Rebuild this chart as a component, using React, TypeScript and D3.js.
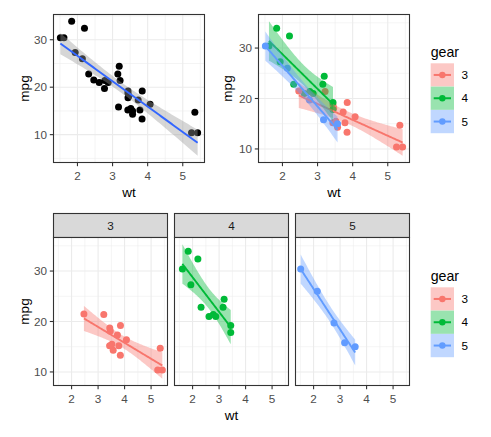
import React from 'react';
import * as d3 from 'd3';

// mtcars: weight (1000 lbs), miles per gallon, number of forward gears
const WT = [2.62, 2.875, 2.32, 3.215, 3.44, 3.46, 3.57, 3.19, 3.15, 3.44, 3.44, 4.07, 3.73, 3.78, 5.25, 5.424, 5.345, 2.2, 1.615, 1.835, 2.465, 3.52, 3.435, 3.84, 3.845, 1.935, 2.14, 1.513, 3.17, 2.77, 3.57, 2.78];
const MPG = [21, 21, 22.8, 21.4, 18.7, 18.1, 14.3, 24.4, 22.8, 19.2, 17.8, 16.4, 17.3, 15.2, 10.4, 10.4, 14.7, 32.4, 30.4, 33.9, 21.5, 15.5, 15.2, 13.3, 19.2, 27.3, 26, 30.4, 15.8, 19.7, 15, 21.4];
const GEAR = [4, 4, 4, 3, 3, 3, 3, 4, 4, 4, 4, 3, 3, 3, 3, 3, 3, 4, 4, 4, 3, 3, 3, 3, 3, 4, 5, 5, 5, 5, 5, 4];

const GEARS = [3, 4, 5];
const GEAR_LABELS = ['3', '4', '5'];
const GEAR_COLORS = ['#F8766D', '#00BA38', '#619CFF'];
const X_TICKS = [2, 3, 4, 5];
const Y_TICKS = [10, 20, 30];
const X_TITLE = 'wt';
const Y_TITLE = 'mpg';
const LEGEND_TITLE = 'gear';

// 97.5% quantiles of Student's t by degrees of freedom
const T975: Record<number, number> = { 3: 3.182446, 10: 2.228139, 13: 2.160369, 30: 2.042272 };

const FONT = '"Liberation Sans", Arial, sans-serif';
const GRID = '#EBEBEB';
const DARK = '#333333';
const TICK_TEXT = '#4D4D4D';

type FitPt = { x: number; y: number; ymin: number; ymax: number };

function fitLm(xs: number[], ys: number[]): FitPt[] {
  const n = xs.length;
  const xbar = d3.mean(xs) as number;
  const ybar = d3.mean(ys) as number;
  let sxx = 0, sxy = 0;
  for (let i = 0; i < n; i++) {
    sxx += (xs[i] - xbar) ** 2;
    sxy += (xs[i] - xbar) * (ys[i] - ybar);
  }
  const b = sxy / sxx;
  const a = ybar - b * xbar;
  let sse = 0;
  for (let i = 0; i < n; i++) sse += (ys[i] - a - b * xs[i]) ** 2;
  const s = Math.sqrt(sse / (n - 2));
  const t = T975[n - 2];
  const [lo, hi] = d3.extent(xs) as [number, number];
  return d3.range(80).map((i) => {
    const x = lo + ((hi - lo) * i) / 79;
    const f = a + b * x;
    const se = s * Math.sqrt(1 / n + (x - xbar) ** 2 / sxx);
    return { x, y: f, ymin: f - t * se, ymax: f + t * se };
  });
}

function expand(lo: number, hi: number): [number, number] {
  const d = (hi - lo) * 0.05;
  return [lo - d, hi + d];
}

function minorBreaks(major: number[], dom: [number, number]) {
  const bd = major[1] - major[0];
  const ext = [major[0] - bd, ...major, major[major.length - 1] + bd];
  const out: number[] = [];
  for (let i = 0; i < ext.length - 1; i++) {
    const m = (ext[i] + ext[i + 1]) / 2;
    if (m >= dom[0] && m <= dom[1]) out.push(m);
  }
  return out;
}

type PanelProps = {
  x0: number; x1: number; y0: number; y1: number;
  xDom: [number, number]; yDom: [number, number];
  showY: boolean; showX: boolean;
  render: (xs: d3.ScaleLinear<number, number>, ys: d3.ScaleLinear<number, number>) => React.ReactNode;
};

function Panel({ x0, x1, y0, y1, xDom, yDom, showY, showX, render }: PanelProps) {
  const xs = d3.scaleLinear().domain(xDom).range([x0, x1]);
  const ys = d3.scaleLinear().domain(yDom).range([y1, y0]);
  const xMinor = minorBreaks(X_TICKS, xDom);
  const yMinor = minorBreaks(Y_TICKS, yDom);
  const clipId = `clip-${Math.round(x0)}-${Math.round(y0)}`;
  return (
    <g>
      <defs>
        <clipPath id={clipId}>
          <rect x={x0} y={y0} width={x1 - x0} height={y1 - y0} />
        </clipPath>
      </defs>
      <rect x={x0} y={y0} width={x1 - x0} height={y1 - y0} fill="#FFFFFF" />
      {xMinor.map((v) => (
        <line key={'xm' + v} x1={xs(v)} x2={xs(v)} y1={y0} y2={y1} stroke={GRID} strokeWidth={0.55} />
      ))}
      {yMinor.map((v) => (
        <line key={'ym' + v} x1={x0} x2={x1} y1={ys(v)} y2={ys(v)} stroke={GRID} strokeWidth={0.55} />
      ))}
      {X_TICKS.map((v) => (
        <line key={'xM' + v} x1={xs(v)} x2={xs(v)} y1={y0} y2={y1} stroke={GRID} strokeWidth={1.1} />
      ))}
      {Y_TICKS.map((v) => (
        <line key={'yM' + v} x1={x0} x2={x1} y1={ys(v)} y2={ys(v)} stroke={GRID} strokeWidth={1.1} />
      ))}
      <g clipPath={`url(#${clipId})`}>{render(xs, ys)}</g>
      <rect x={x0} y={y0} width={x1 - x0} height={y1 - y0} fill="none" stroke={DARK} strokeWidth={1.1} />
      {showY &&
        Y_TICKS.map((v) => (
          <g key={'yt' + v}>
            <line x1={x0 - 3.7} x2={x0} y1={ys(v)} y2={ys(v)} stroke={DARK} strokeWidth={1.1} />
            <text x={x0 - 6.6} y={ys(v)} dy="0.36em" textAnchor="end" fontSize={11.7} fill={TICK_TEXT} fontFamily={FONT}>
              {v}
            </text>
          </g>
        ))}
      {showX &&
        X_TICKS.map((v) => (
          <g key={'xt' + v}>
            <line x1={xs(v)} x2={xs(v)} y1={y1} y2={y1 + 3.7} stroke={DARK} strokeWidth={1.1} />
            <text x={xs(v)} y={y1 + 17} textAnchor="middle" fontSize={11.7} fill={TICK_TEXT} fontFamily={FONT}>
              {v}
            </text>
          </g>
        ))}
    </g>
  );
}

function Legend({ x, titleY, keyY }: { x: number; titleY: number; keyY: number }) {
  const k = 23.3;
  return (
    <g>
      <text x={x} y={titleY} fontSize={14.2} fill="#000000" fontFamily={FONT}>
        {LEGEND_TITLE}
      </text>
      {GEARS.map((g, i) => (
        <g key={g}>
          <rect x={x} y={keyY + i * k} width={k} height={k} fill="#FFFFFF" />
          <rect x={x} y={keyY + i * k} width={k} height={k} fill={GEAR_COLORS[i]} fillOpacity={0.4} />
          <line x1={x + 3} x2={x + k - 3} y1={keyY + i * k + k / 2} y2={keyY + i * k + k / 2} stroke={GEAR_COLORS[i]} strokeWidth={2} />
          <circle cx={x + k / 2} cy={keyY + i * k + k / 2} r={3.2} fill={GEAR_COLORS[i]} />
          <text x={x + k + 7.5} y={keyY + i * k + k / 2} dy="0.36em" fontSize={11.7} fill="#000000" fontFamily={FONT}>
            {GEAR_LABELS[i]}
          </text>
        </g>
      ))}
    </g>
  );
}

function Smooth({ fit, xs, ys, fill, stroke }: { fit: FitPt[]; xs: any; ys: any; fill: string; stroke: string }) {
  const area = d3.area<FitPt>().x((d) => xs(d.x)).y0((d) => ys(d.ymin)).y1((d) => ys(d.ymax));
  const line = d3.line<FitPt>().x((d) => xs(d.x)).y((d) => ys(d.y));
  return (
    <g>
      <path d={area(fit) as string} fill={fill} fillOpacity={0.4} stroke="none" />
      <path d={line(fit) as string} fill="none" stroke={stroke} strokeWidth={1.9} />
    </g>
  );
}

export default function App() {
  const idx = d3.range(WT.length);
  const allFit = fitLm(WT, MPG);
  const groupIdx = GEARS.map((g) => idx.filter((i) => GEAR[i] === g));
  const groupFits = groupIdx.map((ii) => fitLm(ii.map((i) => WT[i]), ii.map((i) => MPG[i])));

  const [wx0, wx1] = d3.extent(WT) as [number, number];
  const xDom = expand(wx0, wx1);

  const yA = [...MPG, ...allFit.map((d) => d.ymin), ...allFit.map((d) => d.ymax)];
  const yDomA = expand(d3.min(yA) as number, d3.max(yA) as number);
  const yB = [...MPG, ...groupFits.flatMap((f) => f.map((d) => d.ymin)), ...groupFits.flatMap((f) => f.map((d) => d.ymax))];
  const yDomB = expand(d3.min(yB) as number, d3.max(yB) as number);

  const top = { y0: 14.5, y1: 162.5 };
  const facetX = [
    [53.5, 167.5],
    [174.5, 288.5],
    [295.5, 409.5],
  ];
  const stripY0 = 213.5;
  const facetY0 = 237.5;
  const facetY1 = 385.5;

  const colorPoints = (xs: any, ys: any, ii: number[]) =>
    ii.map((i) => (
      <circle key={i} cx={xs(WT[i])} cy={ys(MPG[i])} r={3.5} fill={GEAR_COLORS[GEARS.indexOf(GEAR[i])]} />
    ));

  return (
    <svg width={491} height={437} style={{ position: 'absolute', left: 0, top: 0, background: '#FFFFFF' }}>
      <rect x={0} y={0} width={491} height={437} fill="#FFFFFF" />

      {/* Plot A: all cars, single fit */}
      <Panel
        x0={53.5} x1={204.5} y0={top.y0} y1={top.y1} xDom={xDom} yDom={yDomA} showX showY
        render={(xs, ys) => (
          <g>
            {idx.map((i) => (
              <circle key={i} cx={xs(WT[i])} cy={ys(MPG[i])} r={3.5} fill="#000000" />
            ))}
            <Smooth fit={allFit} xs={xs} ys={ys} fill="#999999" stroke="#3366FF" />
          </g>
        )}
      />
      <text x={129} y={196.5} textAnchor="middle" fontSize={13.5} fontFamily={FONT}>{X_TITLE}</text>
      <text transform="translate(28.8,88.5) rotate(-90)" textAnchor="middle" fontSize={13.5} fontFamily={FONT}>{Y_TITLE}</text>

      {/* Plot B: coloured by gear */}
      <Panel
        x0={258.5} x1={409.5} y0={top.y0} y1={top.y1} xDom={xDom} yDom={yDomB} showX showY
        render={(xs, ys) => (
          <g>
            {colorPoints(xs, ys, idx)}
            {groupFits.map((f, gi) => (
              <Smooth key={gi} fit={f} xs={xs} ys={ys} fill={GEAR_COLORS[gi]} stroke={GEAR_COLORS[gi]} />
            ))}
          </g>
        )}
      />
      <text x={334} y={196.5} textAnchor="middle" fontSize={13.5} fontFamily={FONT}>{X_TITLE}</text>
      <text transform="translate(231.5,88.5) rotate(-90)" textAnchor="middle" fontSize={13.5} fontFamily={FONT}>{Y_TITLE}</text>
      <Legend x={430.7} titleY={56.7} keyY={63.3} />

      {/* Plot C: facets by gear */}
      {GEARS.map((g, gi) => (
        <g key={g}>
          <rect x={facetX[gi][0]} y={stripY0} width={facetX[gi][1] - facetX[gi][0]} height={facetY0 - stripY0} fill="#D9D9D9" stroke={DARK} strokeWidth={1.1} />
          <text x={(facetX[gi][0] + facetX[gi][1]) / 2} y={(stripY0 + facetY0) / 2} dy="0.36em" textAnchor="middle" fontSize={11.7} fill="#1A1A1A" fontFamily={FONT}>
            {GEAR_LABELS[gi]}
          </text>
          <Panel
            x0={facetX[gi][0]} x1={facetX[gi][1]} y0={facetY0} y1={facetY1} xDom={xDom} yDom={yDomB}
            showX showY={gi === 0}
            render={(xs, ys) => (
              <g>
                {colorPoints(xs, ys, groupIdx[gi])}
                <Smooth fit={groupFits[gi]} xs={xs} ys={ys} fill={GEAR_COLORS[gi]} stroke={GEAR_COLORS[gi]} />
              </g>
            )}
          />
        </g>
      ))}
      <text x={231.5} y={420} textAnchor="middle" fontSize={13.5} fontFamily={FONT}>{X_TITLE}</text>
      <text transform="translate(28.8,311.5) rotate(-90)" textAnchor="middle" fontSize={13.5} fontFamily={FONT}>{Y_TITLE}</text>
      <Legend x={430.7} titleY={280.5} keyY={287.3} />
    </svg>
  );
}
